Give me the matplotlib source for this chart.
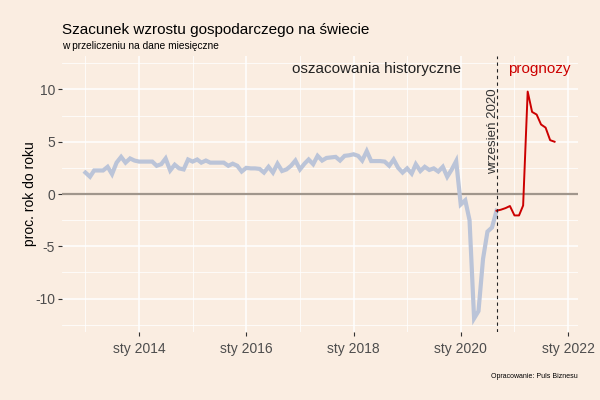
import matplotlib
matplotlib.use("Agg")
import matplotlib.pyplot as plt
import matplotlib.dates as mdates
import pandas as pd
import numpy as np

plt.rcParams['font.family'] = ['Liberation Sans', 'DejaVu Sans']

# ---- data ----
hist_start = "2013-01-01"
hist_values = [
    2.05, 1.65, 2.25, 2.25, 2.25, 2.6, 1.9, 3.0, 3.55, 3.0, 3.4, 3.2,
    3.1, 3.1, 3.1, 3.1, 2.7, 2.85, 3.4, 2.25, 2.8, 2.45, 2.35, 3.3,
    3.1, 3.3, 3.0, 3.2, 3.0, 3.0, 3.0, 3.0, 2.7, 2.9, 2.7, 2.15,
    2.5, 2.45, 2.45, 2.4, 2.05, 2.6, 2.05, 2.9, 2.2, 2.35, 2.7, 3.2,
    2.35, 2.9, 3.3, 2.85, 3.65, 3.2, 3.45, 3.5, 3.55, 3.2, 3.65, 3.7,
    3.8, 3.65, 3.2, 4.1, 3.15, 3.15, 3.15, 3.1, 2.7, 3.3, 2.5, 2.05,
    2.45, 1.95, 2.85, 2.2, 2.6, 2.3, 2.45, 2.15, 2.6, 1.65, 2.35, 3.15,
    -1.0, -0.6, -2.5, -11.9, -11.2, -6.2, -3.6, -3.2, -1.6,
]
fc_start = "2020-09-01"
fc_values = [-1.6, -1.5, -1.35, -1.15, -2.05, -2.05, -1.1,
             9.8, 7.85, 7.6, 6.65, 6.35, 5.15, 5.0]
cutoff = "2020-09-01"
tick_years = [2014, 2016, 2018, 2020, 2022]
tick_labels = ["sty %d" % y for y in tick_years]
minor_years = [2013, 2015, 2017, 2019, 2021]

hist_dates = pd.date_range(hist_start, periods=len(hist_values), freq="MS")
fc_dates = pd.date_range(fc_start, periods=len(fc_values), freq="MS")

bg = "#FAEDE1"
fig = plt.figure(figsize=(6, 4), dpi=100, facecolor=bg)
ax = fig.add_axes([62/600, 68/400, (578-62)/600, (332-56)/400], facecolor=bg)

# limits with ggplot-like expansion
x0 = mdates.date2num(hist_dates[0]); x1 = mdates.date2num(fc_dates[-1])
pad = (x1 - x0) * 0.05
ax.set_xlim(x0 - pad, x1 + pad)
ax.set_ylim(-13.2, 13.2)

# grid
ax.set_xticks([mdates.date2num(pd.Timestamp(f"{y}-01-01")) for y in tick_years])
ax.set_xticklabels(tick_labels)
ax.set_xticks([mdates.date2num(pd.Timestamp(f"{y}-01-01")) for y in minor_years], minor=True)
ax.set_yticks([-10, -5, 0, 5, 10])
ax.set_yticklabels(["-10", "-5", "0", "5", "10"])
ax.set_yticks([-12.5, -7.5, -2.5, 2.5, 7.5, 12.5], minor=True)
ax.grid(which="major", color="white", lw=1.1)
ax.grid(which="minor", color="white", lw=0.55)
ax.set_axisbelow(True)
for s in ax.spines.values():
    s.set_visible(False)
ax.tick_params(which="major", length=3, color="#333333", labelcolor="#4D4D4D",
               labelsize=10, pad=2)
ax.tick_params(which="minor", length=0)
ax.tick_params(axis="x", pad=4)

ax.axhline(0, color="#A0968C", lw=1.6, zorder=2)

ax.plot(hist_dates, hist_values, color="#BBC4D8", lw=3, solid_joinstyle="miter", zorder=3)
ax.plot(fc_dates, fc_values, color="#CC0000", lw=1.4, zorder=4)

cut = mdates.date2num(pd.Timestamp(cutoff))
ax.axvline(cut, color="#222222", lw=0.8, ls=(0, (3, 3)), zorder=5)

ax.set_ylabel("proc. rok do roku", fontsize=10, color="black")
ax.yaxis.set_label_coords((37 - 62) / 516, 0.5)

ax.text(mdates.date2num(pd.Timestamp("2020-01-01")), 12.0, "oszacowania historyczne",
        ha="right", va="center", fontsize=11, color="#222222")
ax.text(mdates.date2num(pd.Timestamp("2021-06-20")), 12.0, "prognozy",
        ha="center", va="center", fontsize=11, color="#CC0000")
ax.text(cut - 24, 6.0, "wrzesień 2020", rotation=90, ha="center", va="center",
        fontsize=9.5, color="#333333")

fig.text(62/600, 1 - 30/400, "Szacunek wzrostu gospodarczego na świecie",
         ha="left", va="center", fontsize=11, color="black")
fig.text(62/600, 1 - 46/400, "w przeliczeniu na dane miesięczne",
         ha="left", va="center", fontsize=7.3, color="black")
fig.text(578/600, 1 - 376/400, "Opracowanie: Puls Biznesu",
         ha="right", va="center", fontsize=5, color="black")

fig.savefig("out.png", dpi=100, facecolor=bg)
